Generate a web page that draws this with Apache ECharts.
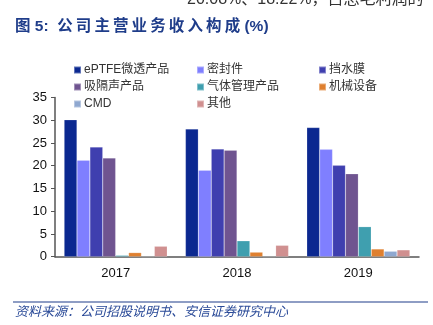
<!DOCTYPE html>
<html><head><meta charset="utf-8">
<script src="https://cdn.jsdelivr.net/npm/echarts@6/dist/echarts.min.js"></script>
<style>html,body{margin:0;padding:0;background:#fff}#c{width:433px;height:325px}</style>
</head><body><div id="c"></div>
<script>
const categories = ['2017', '2018', '2019'];
const seriesNames = ['ePTFE微透产品', '密封件', '挡水膜', '吸隔声产品', '气体管理产品', '机械设备', 'CMD', '其他'];
const ePTFE = [30.1, 28.1, 28.4];
const sealing = [21.2, 19.0, 23.6];
const waterproof = [24.1, 23.7, 20.08];
const acoustic = [21.7, 23.4, 18.22];
const gasMgmt = [0.3, 3.5, 6.6];
const machinery = [0.9, 1.0, 1.7];
const cmd = [0, 0, 1.2];
const others = [2.3, 2.5, 1.5];
const yTicks = [0, 5, 10, 15, 20, 25, 30, 35];
const colors = ['#0B2890', '#7F7FFF', '#3F3FAF', '#6F5490', '#3F9FAF', '#DF8030', '#8FA8D0', '#D09090'];
const seriesData = [ePTFE, sealing, waterproof, acoustic, gasMgmt, machinery, cmd, others];

const FONT = '"Liberation Sans", "Noto Sans CJK SC", sans-serif';
const spaced = (s, sep) => Array.from(s).join(sep);
const chart = echarts.init(document.getElementById('c'), null, {renderer: 'canvas'});
const legendBase = {
  orient: 'vertical', itemWidth: 7, itemHeight: 7, itemGap: 5, icon: 'rect',
  textStyle: {fontSize: 12, color: '#333', fontFamily: FONT, lineHeight: 12, padding: [0,0,0,-2]},
  padding: 0, selectedMode: false
};
chart.setOption({
  animation: false,
  textStyle: {fontFamily: FONT},
  graphic: [
    {type: 'text', left: 187, top: -8, style: {text: '20.08%、18.22%，占总毛利润的', fontSize: 16, fill: '#333', fontFamily: FONT}},
    {type: 'text', left: 15, top: 19, style: {text: '图 5:  ' + spaced('公司主营业务收入构成', '\u2009') + ' (%)', fontSize: 15.5, fontWeight: 'bold', fill: '#1F3D8A', fontFamily: FONT}},
    {type: 'line', shape: {x1: 13, y1: 302, x2: 428, y2: 302}, style: {stroke: '#1F3D8A', lineWidth: 1.2}},
    {type: 'text', left: 15, top: 306, style: {text: '资料来源：公司招股说明书、安信证券研究中心', fontSize: 13, fontStyle: 'italic', fill: '#2A4A98', fontFamily: FONT}}
  ],
  legend: [
    Object.assign({}, legendBase, {left: 73, top: 64, data: [seriesNames[0], seriesNames[3], seriesNames[6]]}),
    Object.assign({}, legendBase, {left: 196, top: 64, data: [seriesNames[1], seriesNames[4], seriesNames[7]]}),
    Object.assign({}, legendBase, {left: 318, top: 64, data: [seriesNames[2], seriesNames[5]]})
  ],
  grid: {left: 55, right: 14, top: 97.5, bottom: 68.3, containLabel: false},
  xAxis: {
    type: 'category', data: categories,
    axisLine: {lineStyle: {color: '#555', width: 1.5}},
    axisTick: {inside: true, length: 3, lineStyle: {color: '#555'}},
    axisLabel: {fontSize: 13, color: '#111', margin: 10}
  },
  yAxis: {
    type: 'value', min: yTicks[0], max: yTicks[yTicks.length - 1], interval: 5,
    splitLine: {show: false},
    axisLine: {show: true, lineStyle: {color: '#555', width: 1.5}},
    axisTick: {show: true, length: 4, lineStyle: {color: '#555'}},
    axisLabel: {fontSize: 13, color: '#111', margin: 8}
  },
  series: seriesNames.map((n, i) => ({
    name: n, type: 'bar', data: seriesData[i],
    barGap: '0%', barCategoryGap: '15%',
    itemStyle: {color: colors[i], borderColor: 'rgba(255,255,255,0.35)', borderWidth: 0.5}
  }))
});
</script></body></html>
